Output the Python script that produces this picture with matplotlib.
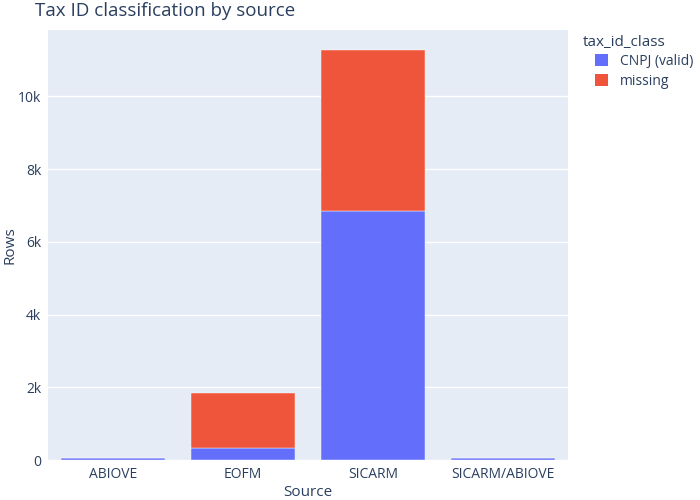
import matplotlib.pyplot as plt
from matplotlib.patches import Patch
from matplotlib.ticker import FuncFormatter
import numpy as np

plt.rcParams['font.family'] = ['Open Sans', 'DejaVu Sans']

sources = ['ABIOVE', 'EOFM', 'SICARM', 'SICARM/ABIOVE']
cnpj_valid = [55, 340, 6840, 55]
missing = [0, 1510, 4420, 0]
classes = ['CNPJ (valid)', 'missing']
colors = ['#636EFA', '#EF553B']
text_color = '#2a3f5f'

fig = plt.figure(figsize=(7, 5), dpi=100)
ax = fig.add_axes([48 / 700, 40 / 500, 520 / 700, 430 / 500])
ax.set_facecolor('#E5ECF6')

x = np.arange(len(sources))
ax.bar(x, cnpj_valid, width=0.8, color=colors[0], edgecolor='white', linewidth=0.3, zorder=3)
ax.bar(x, missing, width=0.8, bottom=cnpj_valid, color=colors[1], edgecolor='white', linewidth=0.3, zorder=3)

totals = [a + b for a, b in zip(cnpj_valid, missing)]
ax.set_xlim(-0.5, len(sources) - 0.5)
ax.set_ylim(0, max(totals) * 1.05)
ax.set_xticks(x)
ax.set_xticklabels(sources)
ax.set_yticks(np.arange(0, 12000, 2000))
ax.yaxis.set_major_formatter(FuncFormatter(lambda v, p: '0' if v == 0 else '%dk' % (v / 1000)))
ax.grid(axis='y', color='white', linewidth=1, zorder=0)
ax.tick_params(length=0, labelsize=10, colors=text_color, pad=5)
for s in ax.spines.values():
    s.set_visible(False)

# axis titles placed by hand so they stay inside the canvas
fig.text(308 / 700, 1 - 492 / 500, 'Source', fontsize=11, color=text_color, ha='center', va='center')
fig.text(10 / 700, 1 - 245 / 500, 'Rows', fontsize=11, color=text_color, ha='center', va='center',
         rotation=90)
fig.text(35 / 700, 1 - 11 / 500, 'Tax ID classification by source', fontsize=13.5,
         color=text_color, va='center', ha='left')

# legend: title on its own, entries indented like plotly
fig.text(583 / 700, 1 - 42 / 500, 'tax_id_class', fontsize=11, color=text_color, ha='left', va='center')
handles = [Patch(facecolor=c, label=l) for c, l in zip(colors, classes)]
leg = fig.legend(handles=handles, loc='upper left', bbox_to_anchor=(595 / 700, 1 - 54 / 500),
                 frameon=False, fontsize=10, handlelength=0.9, handleheight=0.9,
                 handletextpad=0.9, labelspacing=0.35, borderpad=0, borderaxespad=0)
for t in leg.get_texts():
    t.set_color(text_color)

fig.savefig('out.png')
